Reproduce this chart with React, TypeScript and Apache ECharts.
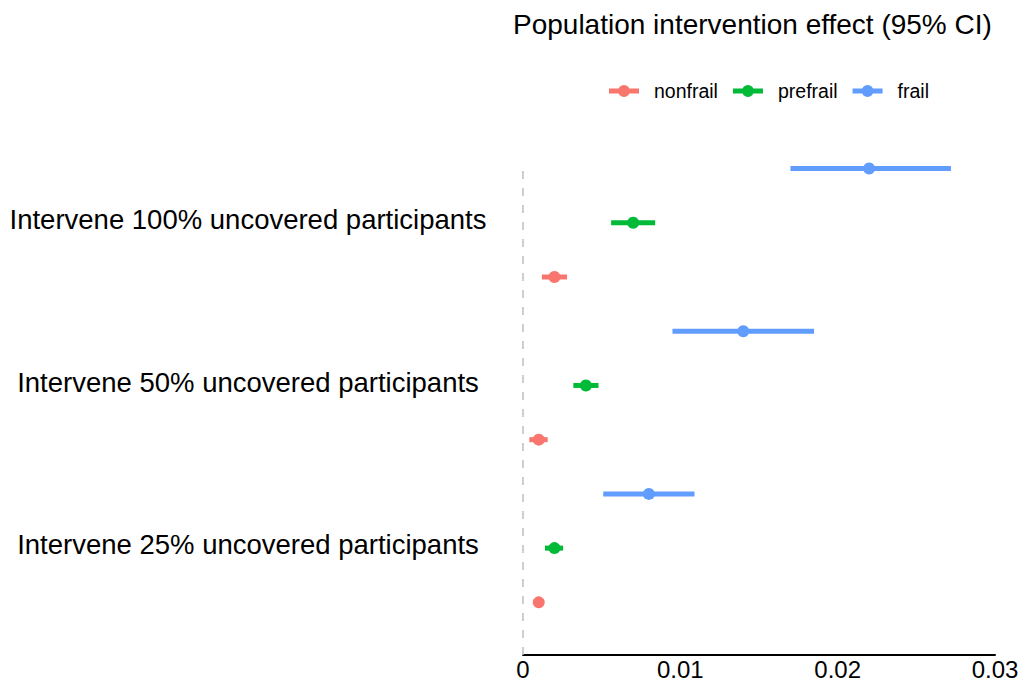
import React, { useEffect, useRef } from "react";
import * as echarts from "echarts";

const categories = [
  "Intervene 25% uncovered participants",
  "Intervene 50% uncovered participants",
  "Intervene 100% uncovered participants",
];
const groups = ["nonfrail", "prefrail", "frail"];
const groupColors = ["#F8766D", "#00BA38", "#619CFF"];
const groupOffsets = [-1 / 3, 0, 1 / 3];

const nonfrailEst = [0.001, 0.001, 0.002];
const nonfrailLo = [0.0008, 0.0004, 0.0012];
const nonfrailHi = [0.0012, 0.00157, 0.0028];

const prefrailEst = [0.002, 0.004, 0.007];
const prefrailLo = [0.0014, 0.0032, 0.0056];
const prefrailHi = [0.00255, 0.0048, 0.0084];

const frailEst = [0.008, 0.014, 0.022];
const frailLo = [0.0051, 0.0095, 0.017];
const frailHi = [0.0109, 0.0185, 0.0272];

const xTicks = [0, 0.01, 0.02, 0.03];

const estimates = [nonfrailEst, prefrailEst, frailEst];
const lows = [nonfrailLo, prefrailLo, frailLo];
const highs = [nonfrailHi, prefrailHi, frailHi];

const legendIcon =
  "path://M0,3.5H30V8.5H0Z M9,6A6,6 0 1 1 21,6A6,6 0 1 1 9,6Z";

const FONT = "Liberation Sans, Arial, sans-serif";
// small upward nudge of the category labels (in axis units) to match text baseline
const LABEL_NUDGE = 0.02;

export default function App() {
  const ref = useRef<HTMLDivElement>(null);
  useEffect(() => {
    document.body.style.margin = "0";
    const chart = echarts.init(ref.current!, null, { renderer: "svg" });
    const series: any[] = groups.map((g, gi) => ({
      name: g,
      type: "custom",
      clip: false,
      itemStyle: { color: groupColors[gi] },
      encode: { x: [1, 2, 3], y: 0 },
      data: categories.map((_, ci) => [
        ci + 1 + groupOffsets[gi],
        lows[gi][ci],
        highs[gi][ci],
        estimates[gi][ci],
      ]),
      renderItem: (params: any, api: any) => {
        const y = api.value(0);
        const lo = api.coord([api.value(1), y]);
        const hi = api.coord([api.value(2), y]);
        const c = api.coord([api.value(3), y]);
        const color = groupColors[gi];
        return {
          type: "group",
          children: [
            {
              type: "line",
              shape: { x1: lo[0], y1: lo[1], x2: hi[0], y2: hi[1] },
              style: { stroke: color, lineWidth: 5, lineCap: "butt" },
            },
            {
              type: "circle",
              shape: { cx: c[0], cy: c[1], r: 6 },
              style: { fill: color },
            },
          ],
        };
      },
    }));
    series.unshift({
      type: "line",
      silent: true,
      symbol: "none",
      data: [
        [0, 0.343],
        [0, 3.349],
      ],
      lineStyle: { color: "#BEBEBE", width: 1.5, type: [8, 9] },
      z: 1,
    });

    chart.setOption({
      animation: false,
      backgroundColor: "#ffffff",
      title: {
        text: "Population intervention effect (95% CI)",
        left: 513,
        top: 10,
        padding: 0,
        textStyle: {
          fontFamily: FONT,
          fontSize: 28,
          fontWeight: "normal",
          color: "#000000",
        },
      },
      legend: {
        data: groups.map((g) => ({ name: g, icon: legendIcon })),
        left: 609,
        top: 81,
        padding: 0,
        itemWidth: 30,
        itemHeight: 12,
        itemGap: 15,
        textStyle: {
          fontFamily: FONT,
          fontSize: 19.5,
          color: "#000000",
          padding: [0, 0, 0, 10],
        },
      },
      grid: { left: 523, right: 34, top: 166, bottom: 28, containLabel: false },
      xAxis: {
        type: "value",
        min: xTicks[0],
        max: xTicks[xTicks.length - 1],
        interval: 0.01,
        axisLine: { show: true, lineStyle: { color: "#000000", width: 2 } },
        axisTick: { show: false },
        splitLine: { show: false },
        axisLabel: {
          fontFamily: FONT,
          fontSize: 24,
          color: "#000000",
          margin: 2,
          formatter: (v: number) => (v === 0 ? "0" : v.toFixed(2)),
        },
      },
      yAxis: {
        type: "value",
        min: 0.343,
        max: 3.349,
        axisLine: { show: false },
        axisTick: { show: false },
        splitLine: { show: false },
        axisLabel: {
          customValues: categories.map((_, i) => i + 1 + LABEL_NUDGE),
          fontFamily: FONT,
          fontSize: 27.5,
          color: "#000000",
          align: "center",
          margin: 275,
          formatter: (v: number) => categories[Math.round(v) - 1] ?? "",
        },
      },
      series,
    });
    return () => chart.dispose();
  }, []);
  return <div ref={ref} style={{ width: 1029, height: 683 }} />;
}
